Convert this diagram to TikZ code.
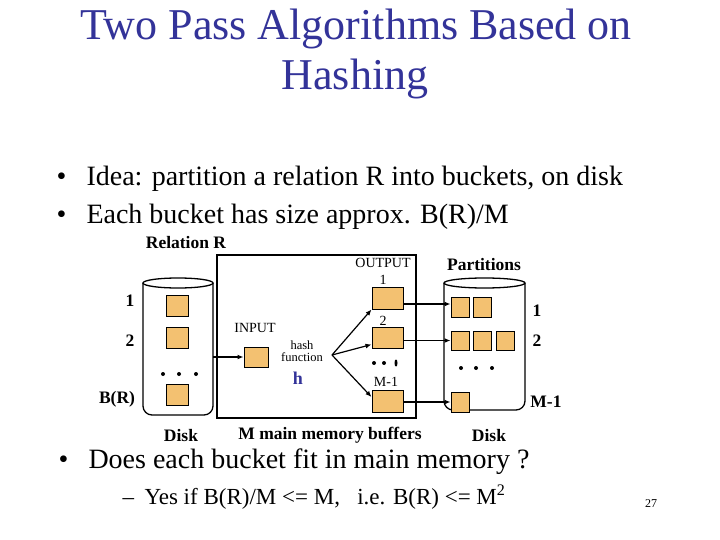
\documentclass[tikz,border=0pt]{standalone}
\usepackage{fontspec}
\setmainfont{Liberation Serif}
\usetikzlibrary{arrows.meta}
\definecolor{titleblue}{RGB}{51,51,153}
\definecolor{bufcol}{RGB}{243,193,113}

\tikzset{
  buf/.style={draw, fill=bufcol, line width=1pt, inner sep=0pt},
  lbl/.style={font=\fontsize{17.5}{19}\selectfont\bfseries},
  tiny/.style={font=\fontsize{14}{12}\selectfont},
  flow/.style={-{Latex[length=6pt,width=5pt]}, line width=1.2pt},
  disk/.style={line width=1.3pt},
}

\begin{document}
\begin{tikzpicture}[x=1pt,y=-1pt]
  \useasboundingbox[fill=white] (0,0) rectangle (720,540);

  % Title
  \node[font=\fontsize{44}{48}\selectfont, text=titleblue] (title1) at (356,29) {Two Pass Algorithms Based on};
  \node[font=\fontsize{44}{48}\selectfont, text=titleblue] (title2) at (355,79) {Hashing};

  % Bullets
  \node[anchor=west, font=\fontsize{28}{32}\selectfont] (idea) at (53,179) {\makebox[30pt][l]{\textbullet}Idea: partition a relation R into buckets, on disk};
  \node[anchor=west, font=\fontsize{28}{32}\selectfont] (size) at (53,217) {\makebox[30pt][l]{\textbullet}Each bucket has size approx. B(R)/M};

  % Disk with relation R
  \draw[disk, rounded corners=9pt] (143,283) -- (143,415) -- (213,415) -- (213,283);
  \draw[disk] (178,283) ellipse (35pt and 5pt);
  \node[lbl] (relR) at (186,243) {Relation R};
  \node[buf, minimum width=22pt, minimum height=21pt] (r1) at (177,305.5) {};
  \node[buf, minimum width=22pt, minimum height=21pt] (r2) at (177,337.5) {};
  \node[buf, minimum width=22pt, minimum height=21pt] (rb) at (177,395) {};
  \foreach \x in {163,179,196} \fill (\x,374) circle (2pt);
  \node[lbl] (n1) at (130,301) {1};
  \node[lbl] (n2) at (130,341) {2};
  \node[lbl] (nb) at (117,399) {B(R)};
  \node[lbl] (disk1) at (181,436) {Disk};
  \coordinate (diskout) at (213,357);

  % Main memory buffers
  \draw[line width=1.6pt] (217,255) rectangle (416,418);
  \node[lbl] (mem) at (330,435) {M main memory buffers};
  \node[buf, minimum width=24pt, minimum height=20pt] (in) at (256,357) {};
  \node[tiny] (inlbl) at (255,328) {INPUT};
  \node[font=\fontsize{12.5}{11.5}\selectfont, align=center, inner sep=1pt] (hash) at (302,351) {hash\\function};
  \node[font=\fontsize{18}{20}\selectfont\bfseries, text=titleblue] (h) at (298,378) {h};
  \coordinate (fan) at (332,355);
  \node[buf, minimum width=31pt, minimum height=22pt] (o1) at (387.5,298) {};
  \node[buf, minimum width=31pt, minimum height=21pt] (o2) at (387.5,337.5) {};
  \node[buf, minimum width=31pt, minimum height=22pt] (om) at (387.5,401) {};
  \node[tiny] (outlbl) at (383,263) {OUTPUT};
  \node[tiny] (o1lbl) at (383,280) {1};
  \node[tiny] (o2lbl) at (383,321) {2};
  \node[tiny] (omlbl) at (386,382) {M-1};
  \fill (374,363) circle (2pt) (384,363) circle (2pt) (396,363) ellipse (1.5pt and 3.5pt);

  % Partitions disk
  \draw[disk, rounded corners=9pt] (444,283) -- (444,410) -- (525,410) -- (525,283);
  \draw[disk] (484.5,283) ellipse (40.5pt and 5pt);
  \node[lbl] (parts) at (484,265) {Partitions};
  \node[buf, minimum width=18pt, minimum height=20pt] (p11) at (460,307) {};
  \node[buf, minimum width=18pt, minimum height=20pt] (p12) at (482,307) {};
  \node[buf, minimum width=18pt, minimum height=19pt] (p21) at (460,340.5) {};
  \node[buf, minimum width=18pt, minimum height=19pt] (p22) at (482,340.5) {};
  \node[buf, minimum width=18pt, minimum height=19pt] (p23) at (505,340.5) {};
  \node[buf, minimum width=18pt, minimum height=20pt] (pm) at (460,402) {};
  \foreach \x in {461,476,492} \fill (\x,368) circle (2pt);
  \node[lbl] (q1) at (537,311) {1};
  \node[lbl] (q2) at (537,341) {2};
  \node[lbl] (qm) at (546,402) {M-1};
  \node[lbl] (disk2) at (489,436) {Disk};

  % Arrows
  \draw[flow] (diskout) -- (in.west);
  \draw[flow] (fan) -- (o1.south west);
  \draw[flow] (fan) -- ([yshift=4pt]o2.south west);
  \draw[flow] (fan) -- ([yshift=4pt]om.west);
  \draw[flow] ([yshift=-6pt]o1.east) -- ([yshift=3pt]p11.west);
  \draw[flow] (o2.east |- p21.west) -- (p21.west);
  \draw[flow] (om.east |- pm.west) -- (pm.west);

  % Last bullet
  \node[anchor=west, font=\fontsize{28}{32}\selectfont] (fit) at (55,462) {\makebox[30pt][l]{\textbullet}Does each bucket fit in main memory ?};
  \node[anchor=west, font=\fontsize{23}{26}\selectfont] (yes) at (119,497) {\makebox[22pt][l]{--}Yes if B(R)/M <= M,~~ i.e. B(R) <= M\textsuperscript{2}};
  \node[font=\fontsize{12}{14}\selectfont] (page) at (651,504) {27};
\end{tikzpicture}
\end{document}
